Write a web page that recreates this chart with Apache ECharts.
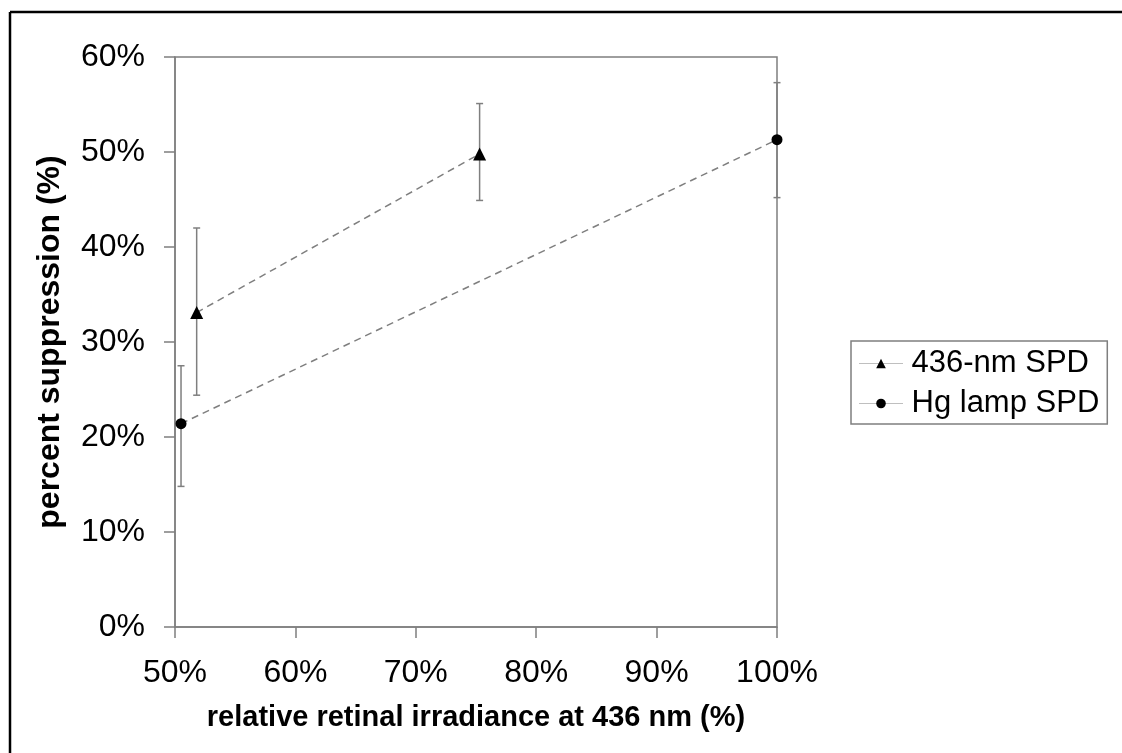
<!DOCTYPE html>
<html>
<head>
<meta charset="utf-8">
<script src="https://cdn.jsdelivr.net/npm/echarts@6/dist/echarts.min.js"></script>
<style>
  html, body { margin: 0; padding: 0; background: #fff; }
  #chart { width: 1122px; height: 753px; }
</style>
</head>
<body>
<div id="chart"></div>
<script>
// 436-nm SPD
const nmX = [51.8, 75.3];
const nmY = [33.1, 49.8];
const nmLow = [24.4, 44.9];
const nmHigh = [42.0, 55.1];

// Hg lamp SPD
const hgX = [50.5, 100];
const hgY = [21.4, 51.3];
const hgLow = [14.8, 45.2];
const hgHigh = [27.5, 57.3];

const seriesNames = ['436-nm SPD', 'Hg lamp SPD'];
const xTitle = 'relative retinal irradiance at 436 nm (%)';
const yTitle = 'percent suppression (%)';
const font = 'Liberation Sans, Arial, sans-serif';
const gray = '#7f7f7f';

const chart = echarts.init(document.getElementById('chart'));

// 误差线
function errorSeries(xs, lows, highs) {
  return {
    type: 'custom',
    silent: true,
    z: 1,
    data: xs.map((x, i) => [x, lows[i], highs[i]]),
    renderItem: (params, api) => {
      const lo = api.coord([api.value(0), api.value(1)]);
      const hi = api.coord([api.value(0), api.value(2)]);
      const w = 3.5;
      const style = { stroke: gray, lineWidth: 1.5 };
      return {
        type: 'group',
        children: [
          { type: 'line', shape: { x1: lo[0], y1: lo[1], x2: hi[0], y2: hi[1] }, style },
          { type: 'line', shape: { x1: hi[0] - w, y1: hi[1], x2: hi[0] + w, y2: hi[1] }, style },
          { type: 'line', shape: { x1: lo[0] - w, y1: lo[1], x2: lo[0] + w, y2: lo[1] }, style },
        ],
      };
    },
  };
}

function pointSeries(name, xs, ys, symbol, size) {
  return {
    name,
    type: 'line',
    z: 3,
    data: xs.map((x, i) => [x, ys[i]]),
    symbol,
    symbolSize: size,
    showSymbol: true,
    itemStyle: { color: '#000' },
    lineStyle: { color: gray, width: 1.5, type: [7, 5] },
    emphasis: { disabled: true },
  };
}

const option = {
  animation: false,
  backgroundColor: '#fff',
  grid: {
    left: 175, right: 345, top: 57, bottom: 126,
    show: true, borderColor: gray, borderWidth: 1.5,
  },
  xAxis: {
    type: 'value',
    min: 50, max: 100, interval: 10,
    axisLine: { lineStyle: { color: gray, width: 1.5 } },
    axisTick: { inside: false, length: 11, lineStyle: { color: gray, width: 1.5 } },
    axisLabel: { formatter: '{value}%', fontFamily: font, fontSize: 32, color: '#000', margin: 30 },
    splitLine: { show: false },
  },
  yAxis: {
    type: 'value',
    min: 0, max: 60, interval: 10,
    name: yTitle,
    nameLocation: 'middle',
    nameGap: 109,
    nameTextStyle: { fontFamily: font, fontSize: 32, fontWeight: 'bold', color: '#000' },
    axisLine: { lineStyle: { color: gray, width: 1.5 } },
    axisTick: { inside: false, length: 11, lineStyle: { color: gray, width: 1.5 } },
    axisLabel: { formatter: '{value}%', fontFamily: font, fontSize: 32, color: '#000', margin: 30 },
    splitLine: { show: false },
  },
  legend: {
    data: seriesNames,
    orient: 'vertical',
    left: 851,
    top: 341,
    padding: [7, 8, 5, 8],
    itemGap: 9,
    itemWidth: 43,
    itemHeight: 12,
    borderColor: gray,
    borderWidth: 1.5,
    textStyle: { fontFamily: font, fontSize: 31, color: '#000', padding: [0, 0, 0, 4] },
    lineStyle: { type: 'dotted', width: 1, color: gray },
    selectedMode: false,
  },
  graphic: [
    { type: 'line', shape: { x1: 10, y1: 12, x2: 1122, y2: 12 }, style: { stroke: '#000', lineWidth: 2.5 } },
    { type: 'line', shape: { x1: 10, y1: 12, x2: 10, y2: 753 }, style: { stroke: '#000', lineWidth: 2.5 } },
    {
      type: 'text', x: 476, y: 718,
      style: {
        text: xTitle, font: 'bold 29px ' + font, fill: '#000',
        textAlign: 'center', textVerticalAlign: 'middle',
      },
    },
  ],
  series: [
    errorSeries(nmX, nmLow, nmHigh),
    errorSeries(hgX, hgLow, hgHigh),
    pointSeries(seriesNames[0], nmX, nmY, 'triangle', 13),
    pointSeries(seriesNames[1], hgX, hgY, 'circle', 11),
  ],
};

chart.setOption(option);
</script>
</body>
</html>
